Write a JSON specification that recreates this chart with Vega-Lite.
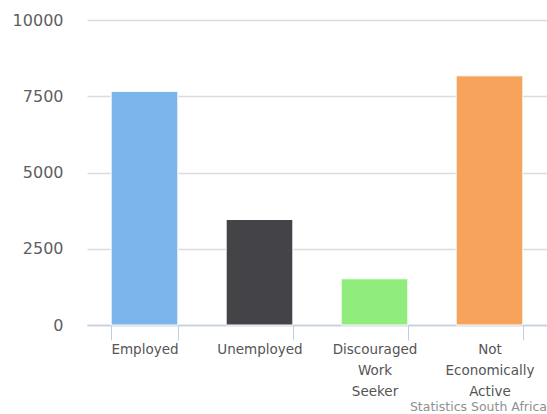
{
  "$schema": "https://vega.github.io/schema/vega-lite/v6.json",
  "width": 460,
  "height": 305,
  "autosize": {"type": "none"},
  "padding": {"left": 87, "top": 20, "right": 0, "bottom": 89},
  "background": "white",
  "data": {"values": [
    {"status": "Employed", "value": 7660},
    {"status": "Unemployed", "value": 3460},
    {"status": "Discouraged Work Seeker", "value": 1515},
    {"status": "Not Economically Active", "value": 8170}
  ]},
  "title": {
    "text": "Statistics South Africa",
    "orient": "bottom",
    "anchor": "end",
    "fontSize": 12.5,
    "font": "DejaVu Sans",
    "fontWeight": "normal",
    "color": "#909090",
    "offset": 3
  },
  "mark": {"type": "bar", "stroke": "white", "strokeWidth": 1},
  "encoding": {
    "x": {
      "field": "status",
      "type": "nominal",
      "sort": null,
      "scale": {"paddingInner": 0.42, "paddingOuter": 0.21},
      "axis": {
        "title": null,
        "labelAngle": 0,
        "labelFont": "DejaVu Sans",
        "labelFontSize": 13.5,
        "labelColor": "#555555",
        "labelExpr": "datum.label == 'Discouraged Work Seeker' ? ['Discouraged','Work','Seeker'] : datum.label == 'Not Economically Active' ? ['Not','Economically','Active'] : datum.label",
        "labelLineHeight": 21,
        "labelPadding": 2,
        "labelBaseline": "top",
        "tickBand": "extent",
        "tickSize": 15,
        "tickColor": "#c0d0e0",
        "domainColor": "#c0d0e0",
        "domainWidth": 1.5,
        "labelLimit": 200
      }
    },
    "y": {
      "field": "value",
      "type": "quantitative",
      "scale": {"domain": [0, 10000]},
      "axis": {
        "title": null,
        "values": [0, 2500, 5000, 7500, 10000],
        "format": "d",
        "labelFont": "DejaVu Sans",
        "labelFontSize": 16,
        "labelColor": "#606060",
        "labelPadding": 24,
        "ticks": false,
        "domain": false,
        "gridColor": "#dcdcdc",
        "gridWidth": 1.5
      }
    },
    "color": {
      "field": "status",
      "type": "nominal",
      "scale": {
        "domain": ["Employed", "Unemployed", "Discouraged Work Seeker", "Not Economically Active"],
        "range": ["#7cb5ec", "#434348", "#90ed7d", "#f7a35c"]
      },
      "legend": null
    }
  },
  "config": {"view": {"stroke": null}}
}
